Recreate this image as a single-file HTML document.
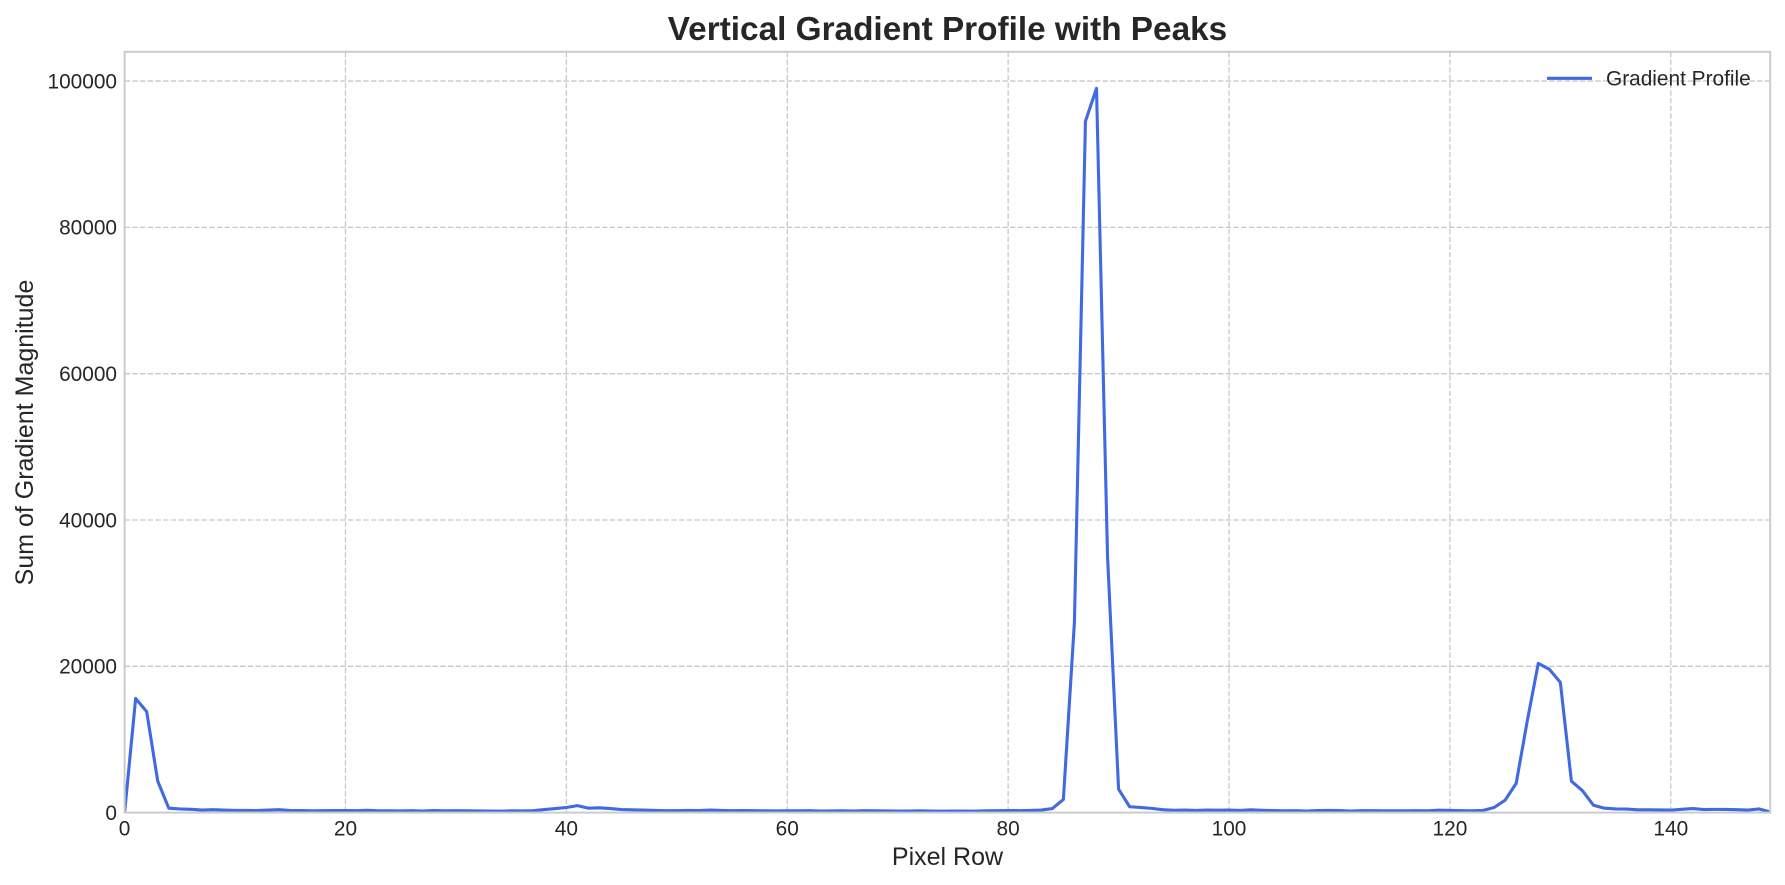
<!DOCTYPE html>
<html lang="en">
<head>
<meta charset="utf-8">
<title>Vertical Gradient Profile with Peaks</title>
<style>
html,body{margin:0;padding:0;background:#fff;width:1785px;height:885px;overflow:hidden}
svg{display:block;font-family:"Liberation Sans",Arial,sans-serif;fill:#262626}
</style>
</head>
<body>
<svg id="chart" width="1785" height="885" viewBox="0 0 1785 885" xmlns="http://www.w3.org/2000/svg">
  <rect width="1785" height="885" fill="#fff"/>
  <defs><clipPath id="plot-clip"><rect x="124.6" y="51.8" width="1645.6" height="760.8"/></clipPath></defs>
  <g id="grid"></g>
  <g id="series" clip-path="url(#plot-clip)"></g>
  <g id="spines"></g>
  <g id="x-ticks"></g>
  <g id="y-ticks"></g>
  <text x="947.5" y="40" text-anchor="middle" font-size="33.33" font-weight="700">Vertical Gradient Profile with Peaks</text>
  <text x="947.5" y="865" text-anchor="middle" font-size="25">Pixel Row</text>
  <text transform="translate(33,432.5) rotate(-90)" text-anchor="middle" font-size="25">Sum of Gradient Magnitude</text>
  <g>
    <line x1="1547" y1="78.3" x2="1592" y2="78.3" stroke="#4169e1" stroke-width="3.1"/>
    <text x="1606" y="85.3" font-size="20.83">Gradient Profile</text>
  </g>
</svg>
<script>
const xTickValues = [0, 20, 40, 60, 80, 100, 120, 140];
const yTickValues = [0, 20000, 40000, 60000, 80000, 100000];
const gradientProfile = [
  0, 15600, 13800, 4300, 600, 500, 450, 350, 400, 350,
  300, 300, 280, 350, 400, 280, 280, 250, 260, 280,
  280, 260, 320, 250, 240, 230, 260, 220, 280, 240,
  260, 250, 230, 210, 200, 240, 230, 260, 420, 550,
  700, 950, 600, 650, 550, 420, 380, 340, 300, 270,
  260, 290, 280, 340, 300, 260, 280, 260, 240, 230,
  250, 240, 260, 220, 230, 250, 220, 260, 240, 230,
  220, 210, 250, 220, 200, 210, 220, 190, 240, 260,
  280, 270, 300, 350, 550, 1800, 26000, 94500, 99000, 35000,
  3200, 800, 700, 580, 400, 320, 340, 300, 350, 330,
  350, 290, 380, 320, 280, 240, 270, 220, 280, 300,
  280, 220, 270, 260, 250, 250, 240, 260, 250, 330,
  300, 270, 240, 300, 700, 1700, 4000, 12500, 20400, 19600,
  17800, 4300, 3000, 1000, 600, 500, 480, 380, 380, 370,
  340, 450, 550, 420, 440, 430, 400, 350, 500, 100
];

const NS = 'http://www.w3.org/2000/svg';
const plot = { left: 124.6, right: 1770.2, top: 51.8, bottom: 812.6 };
const xMin = 0, xMax = 149, yMin = 0, yMax = 104000;
const xScale = v => plot.left + (v - xMin) / (xMax - xMin) * (plot.right - plot.left);
const yScale = v => plot.bottom - (v - yMin) / (yMax - yMin) * (plot.bottom - plot.top);

function make(tag, attrs, parent) {
  const el = document.createElementNS(NS, tag);
  for (const k in attrs) el.setAttribute(k, attrs[k]);
  parent.appendChild(el);
  return el;
}

const gridG = document.getElementById('grid');
const xTicksG = document.getElementById('x-ticks');
const yTicksG = document.getElementById('y-ticks');
const seriesG = document.getElementById('series');
const spinesG = document.getElementById('spines');

xTickValues.forEach(v => {
  const x = xScale(v);
  if (v !== xMin) {
    const g = make('line', { x1: x, x2: x, y1: plot.top, y2: plot.bottom, stroke: '#c8c8c8', 'stroke-width': 1.3, 'stroke-dasharray': '5.4 2.3' }, gridG);
    
    
  }
  const t = make('text', { x: x, y: 835.5, 'text-anchor': 'middle', 'font-size': 20.83 }, xTicksG);
  
  
  t.textContent = String(v);
});

yTickValues.forEach(v => {
  const y = yScale(v);
  if (v !== yMin) {
    const g = make('line', { x1: plot.left, x2: plot.right, y1: y, y2: y, stroke: '#c8c8c8', 'stroke-width': 1.3, 'stroke-dasharray': '5.4 2.3' }, gridG);
    
    
  }
  const t = make('text', { x: 117, y: y + 7.3, 'text-anchor': 'end', 'font-size': 20.83 }, yTicksG);
  
  
  t.textContent = String(v);
});

const points = gradientProfile.map((v, i) => xScale(i).toFixed(2) + ',' + yScale(v).toFixed(2)).join(' ');
const line = make('polyline', { points: points, fill: 'none', stroke: '#4169e1', 'stroke-width': 3.1, 'stroke-linejoin': 'round' }, seriesG);



const frame = make('rect', { x: plot.left, y: plot.top, width: plot.right - plot.left, height: plot.bottom - plot.top, fill: 'none', stroke: '#cccccc', 'stroke-width': 2 }, spinesG);


</script>
</body>
</html>
